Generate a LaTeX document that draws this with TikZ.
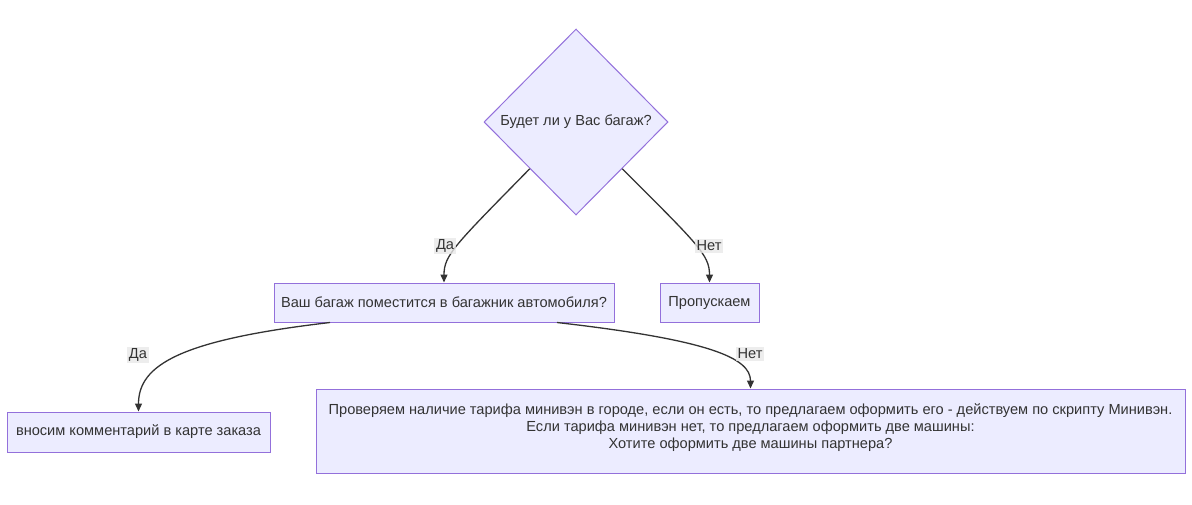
\documentclass[tikz,border=0pt]{standalone}
\usepackage{fontspec}
\setmainfont{Liberation Sans}
\usetikzlibrary{shapes.geometric,arrows.meta}
\definecolor{boxFill}{HTML}{ECECFF}
\definecolor{boxLine}{HTML}{9370DB}
\definecolor{edgeColor}{HTML}{333333}
\definecolor{labelFill}{HTML}{E8E8E8}
\tikzset{>={Triangle[length=8pt,width=7pt]}}
\tikzset{
  stepbox/.style={draw=boxLine,fill=boxFill,line width=1pt,text=edgeColor,inner sep=0pt},
  question/.style={diamond,draw=boxLine,fill=boxFill,line width=1pt,text=edgeColor,inner sep=0pt,minimum width=184,minimum height=186},
  flow/.style={->,draw=edgeColor,line width=1.3pt},
  answer/.style={fill=labelFill,fill opacity=0.8,text opacity=1,text=edgeColor,inner sep=2pt},
}

\begin{document}
\begin{tikzpicture}[x=1pt,y=-1pt,font=\fontsize{14.6}{17}\selectfont]
	\useasboundingbox (0,0) rectangle (1192,504);
	% nodes
	\node[question] (luggage) at (576,122) {Будет ли у Вас багаж?};
	\node[stepbox,minimum width=340,minimum height=39] (fits) at (444,302.5) {Ваш багаж поместится в багажник автомобиля?};
	\node[stepbox,minimum width=99,minimum height=39] (skip) at (709.5,302.5) {Пропускаем};
	\node[stepbox,minimum width=263,minimum height=40] (comment) at (138.5,432) {вносим комментарий в карте заказа};
	\node[stepbox,minimum width=869,minimum height=84,align=center] (minivan) at (750.5,431) {Проверяем наличие тарифа минивэн в городе, если он есть, то предлагаем оформить его - действуем по скрипту Минивэн.\\Если тарифа минивэн нет, то предлагаем оформить две машины:\\Хотите оформить две машины партнера?\\[-13pt]\strut};
	% connectors
	\draw[flow] (luggage.south west) .. controls (455,245) and (444,255) .. (fits.north);
	\draw[flow] (luggage.south east) .. controls (698.5,245) and (709.5,255) .. (skip.north);
	\draw[flow] ([xshift=-114]fits.south) .. controls (180,340) and (138.5,365) .. (comment.north);
	\draw[flow] ([xshift=113]fits.south) .. controls (710,340) and (750.5,358) .. (minivan.north);
	% answers
	\node[answer] (yes1) at (445,246) {Да};
	\node[answer] (no1) at (709,246) {Нет};
	\node[answer] (yes2) at (138,355) {Да};
	\node[answer] (no2) at (750,354) {Нет};
\end{tikzpicture}
\end{document}
